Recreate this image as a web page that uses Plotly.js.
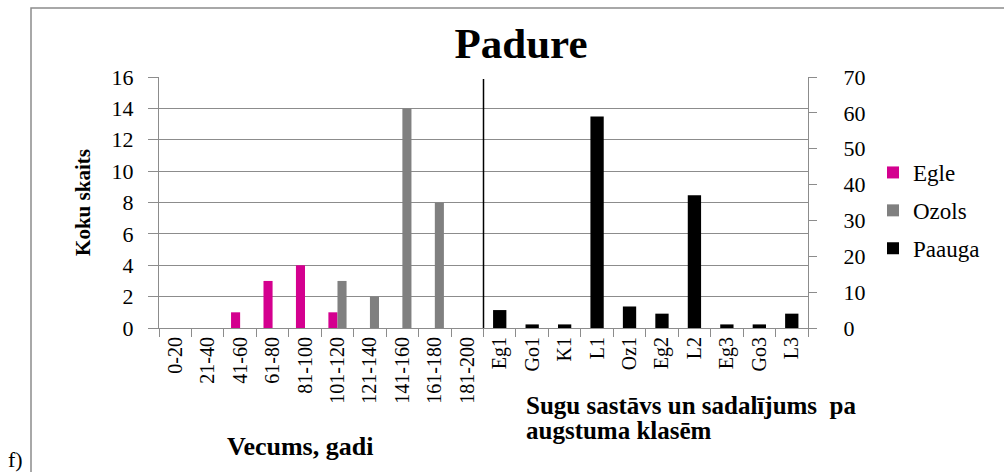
<!DOCTYPE html>
<html>
<head>
<meta charset="utf-8">
<script src="https://cdn.plot.ly/plotly-3.0.1.min.js"></script>
<style>html,body{margin:0;padding:0;background:#fff;}#chart{width:1004px;height:472px;}</style>
</head>
<body>
<div id="chart"></div>
<script>
// Data
const ageCats = ["0-20","21-40","41-60","61-80","81-100","101-120","121-140","141-160","161-180","181-200"];
const egleValues = [0,0,1,3,4,1,0,0,0,0];
const ozolsValues = [0,0,0,0,0,3,2,14,8,0];
const speciesCats = ["Eg1","Go1","K1","L1","Oz1","Eg2","L2","Eg3","Go3","L3"];
const paaugaValues = [5,1,1,59,6,4,37,1,1,4];
const leftTicks = [0,2,4,6,8,10,12,14,16];
const rightTicks = [0,10,20,30,40,50,60,70];

const serif = "Liberation Serif";
const allCats = ageCats.concat(speciesCats);

const traces = [
  {type:"bar", name:"Egle", x:ageCats, y:egleValues, marker:{color:"#d4008f"},
   width:0.28, offset:-0.28, legendgroup:"a"},
  {type:"bar", name:"Ozols", x:ageCats, y:ozolsValues, marker:{color:"#808080"},
   width:0.28, offset:0, legendgroup:"b"},
  {type:"bar", name:"Paauga", x:speciesCats, y:paaugaValues, yaxis:"y2", marker:{color:"#000000"},
   width:0.41, offset:-0.205, legendgroup:"c"}
];

const L = 159, R = 808, T = 77, B = 328, W = 1004, H = 472;
const pw = R - L, ph = B - T;
const px = v => (v - L) / pw;
const py = v => (B - v) / ph;

const layout = {
  width: W, height: H,
  margin: {l: L, r: W - R, t: T, b: H - B, pad: 0},
  paper_bgcolor: "#fff", plot_bgcolor: "#fff",
  barmode: "overlay",
  showlegend: true,
  font: {family: serif, color: "#000"},
  title: {text: "<b>Padure</b>", font: {family: serif, size: 43, color: "#000"},
          x: px(521), xref: "paper", xanchor: "center", y: 1 - 43/H, yref: "container", yanchor: "middle"},
  xaxis: {type: "category", categoryorder: "array", categoryarray: allCats,
          range: [-0.5, allCats.length - 0.5],
          showline: true, linecolor: "#8c8c8c", linewidth: 1,
          ticks: "outside", tickson: "boundaries", ticklen: 8, tickcolor: "#8c8c8c",
          tickangle: -90, tickfont: {family: serif, size: 20, color: "#000"},
          showgrid: false, zeroline: false, automargin: false, fixedrange: true},
  yaxis: {range: [0, 16], tickvals: leftTicks, showline: true, linecolor: "#8c8c8c", linewidth: 1,
          ticks: "outside", ticklen: 10, tickcolor: "#8c8c8c",
          showgrid: true, gridcolor: "#8c8c8c", gridwidth: 1, zeroline: false,
          tickfont: {family: serif, size: 22, color: "#000"}, ticklabelstandoff: 10,
          title: {text: "<b>Koku skaits</b>", font: {family: serif, size: 21, color: "#000"}, standoff: 15},
          automargin: false, fixedrange: true},
  yaxis2: {range: [0, 70], tickvals: rightTicks, overlaying: "y", side: "right",
           showline: true, linecolor: "#8c8c8c", linewidth: 1,
           ticks: "outside", ticklen: 8, tickcolor: "#8c8c8c",
           showgrid: false, zeroline: false,
           tickfont: {family: serif, size: 22, color: "#000"}, ticklabelstandoff: 22,
           automargin: false, fixedrange: true},
  legend: {x: px(873), y: py(151), xanchor: "left", yanchor: "top",
           font: {family: serif, size: 23, color: "#000"},
           traceorder: "grouped", tracegroupgap: 5, itemwidth: 30,
           bgcolor: "rgba(0,0,0,0)", borderwidth: 0},
  shapes: [
    {type: "line", xref: "x", yref: "paper", x0: 9.5, x1: 9.5, y0: 0, y1: py(79),
     line: {color: "#000", width: 1.5}},
    {type: "rect", xref: "paper", yref: "paper", x0: px(31), x1: px(1010), y0: py(480), y1: py(8),
     line: {color: "#8c8c8c", width: 1.5}, fillcolor: "rgba(0,0,0,0)", layer: "below"}
  ],
  annotations: [
    {text: "<b>Vecums, gadi</b>", xref: "paper", yref: "paper", x: px(300), y: py(446),
     xanchor: "center", yanchor: "middle", showarrow: false,
     font: {family: serif, size: 26, color: "#000"}},
    {text: "<b>Sugu sastāvs un sadalījums  pa</b>", xref: "paper", yref: "paper",
     x: px(524), y: py(405), xanchor: "left", yanchor: "middle", align: "left", showarrow: false,
     font: {family: serif, size: 25, color: "#000"}},
    {text: "<b>augstuma klasēm</b>", xref: "paper", yref: "paper",
     x: px(524), y: py(430), xanchor: "left", yanchor: "middle", align: "left", showarrow: false,
     font: {family: serif, size: 25, color: "#000"}},
    {text: "f)", xref: "paper", yref: "paper", x: px(6), y: py(474), xanchor: "left", yanchor: "bottom",
     showarrow: false, font: {family: serif, size: 22, color: "#000"}}
  ]
};

Plotly.newPlot("chart", traces, layout, {displayModeBar: false, staticPlot: true});
</script>
</body>
</html>
